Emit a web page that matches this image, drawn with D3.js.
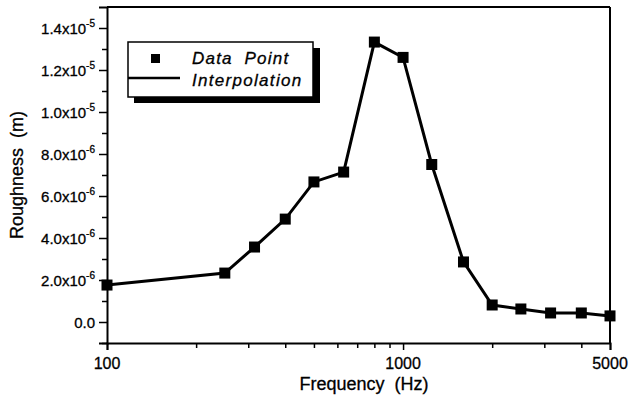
<!DOCTYPE html>
<html>
<head>
<meta charset="utf-8">
<script src="https://cdn.jsdelivr.net/npm/d3@7"></script>
<style>
  body { margin: 0; background: #fff; }
  svg { display: block; font-family: "Liberation Sans", Arial, Helvetica, sans-serif; }
  text { fill: #000; stroke: #000; stroke-width: 0.3px; }
</style>
</head>
<body>
<svg id="chart" width="629" height="399"></svg>
<script>
// data
var freqs = [100, 250, 315, 400, 500, 630, 800, 1000, 1250, 1600, 2000, 2500, 3150, 4000, 5000];
var roughness = [1.76e-6, 2.33e-6, 3.57e-6, 4.9e-6, 6.67e-6, 7.14e-6, 1.333e-5, 1.26e-5,
                 7.5e-6, 2.86e-6, 0.81e-6, 0.62e-6, 0.43e-6, 0.43e-6, 0.29e-6];

var yMajor = [0, 2e-6, 4e-6, 6e-6, 8e-6, 1e-5, 1.2e-5, 1.4e-5];
var yMinor = [-1e-6, 1e-6, 3e-6, 5e-6, 7e-6, 9e-6, 1.1e-5, 1.3e-5];
var yLabels = ["0.0", "2.0x10|-6", "4.0x10|-6", "6.0x10|-6", "8.0x10|-6", "1.0x10|-5", "1.2x10|-5", "1.4x10|-5"];
var xMajor = [100, 1000, 5000];
var xMinor = [200, 300, 400, 500, 600, 700, 800, 900, 2000, 3000, 4000];
var xLabels = ["100", "1000", "5000"];
var legendNames = ["Data  Point", "Interpolation"];

var svg = d3.select("#chart");
// plot box ("top" is taken on window, so short names)
var pL = 107, pR = 610, pT = 7, pB = 343;

var x = d3.scaleLog().domain([100, 5000]).range([pL, pR]);
var y = d3.scaleLinear().domain([-1e-6, 1.5e-5]).range([pB, pT]);

// frame
svg.append("line").attr("x1", pL).attr("x2", pR).attr("y1", pT).attr("y2", pT)
   .attr("stroke", "#000").attr("stroke-width", 2);
svg.append("line").attr("x1", pR).attr("x2", pR).attr("y1", pT).attr("y2", pB)
   .attr("stroke", "#000").attr("stroke-width", 2);

// y axis
var yAx = svg.append("g").attr("transform", "translate(" + pL + ",0)");
yAx.call(d3.axisLeft(y).tickValues(yMajor).tickSize(8).tickFormat(""));
yAx.append("g").call(d3.axisLeft(y).tickValues(yMinor).tickSize(5).tickFormat(""))
   .select(".domain").remove();
yAx.selectAll("path.domain").attr("stroke-width", 2);
yAx.selectAll(".tick line").attr("stroke-width", 1.5);

yMajor.forEach(function(v, i) {
  var parts = yLabels[i].split("|");
  var t = svg.append("text")
     .attr("x", 95).attr("y", y(v) + 6)
     .attr("text-anchor", "end").attr("font-size", 15);
  t.append("tspan").text(parts[0]);
  if (parts[1]) {
    t.append("tspan").attr("dy", -7).attr("font-size", 10).text(parts[1]);
  }
});

// x axis
var xAx = svg.append("g").attr("transform", "translate(0," + pB + ")");
xAx.call(d3.axisBottom(x).tickValues(xMajor).tickSize(7).tickFormat(""));
xAx.append("g").call(d3.axisBottom(x).tickValues(xMinor).tickSize(5).tickFormat(""))
   .select(".domain").remove();
xAx.selectAll("path.domain").attr("stroke-width", 2);
xAx.selectAll(".tick line").attr("stroke-width", 1.5);

xMajor.forEach(function(v, i) {
  svg.append("text").attr("x", x(v)).attr("y", 369)
     .attr("text-anchor", "middle").attr("font-size", 16)
     .text(xLabels[i]);
});

// axis titles
svg.append("text").attr("x", 364).attr("y", 390)
   .attr("text-anchor", "middle").attr("font-size", 18).attr("xml:space", "preserve")
   .text("Frequency  (Hz)");
svg.append("text").attr("transform", "translate(23,175) rotate(-90)")
   .attr("text-anchor", "middle").attr("font-size", 18).attr("xml:space", "preserve")
   .text("Roughness  (m)");

// series
var pts = freqs.map(function(f, i) { return [f, roughness[i]]; });
var line = d3.line().x(function(d) { return x(d[0]); }).y(function(d) { return y(d[1]); });

svg.append("path").datum(pts).attr("d", line)
   .attr("fill", "none").attr("stroke", "#000").attr("stroke-width", 3);

var m = 11;
svg.selectAll("rect.pt").data(pts).enter().append("rect").attr("class", "pt")
   .attr("x", function(d) { return x(d[0]) - m / 2; })
   .attr("y", function(d) { return y(d[1]) - m / 2; })
   .attr("width", m).attr("height", m).attr("fill", "#000");

// legend
var lg = svg.append("g");
lg.append("rect").attr("x", 134).attr("y", 48).attr("width", 186).attr("height", 55).attr("fill", "#000");
lg.append("rect").attr("x", 128).attr("y", 42).attr("width", 185).attr("height", 55)
  .attr("fill", "#fff").attr("stroke", "#000").attr("stroke-width", 1.5);
lg.append("rect").attr("x", 151).attr("y", 54).attr("width", 9).attr("height", 9).attr("fill", "#000");
lg.append("line").attr("x1", 128).attr("x2", 180).attr("y1", 78).attr("y2", 78)
  .attr("stroke", "#000").attr("stroke-width", 2.5);
lg.append("text").attr("x", 192).attr("y", 64).attr("font-size", 17).attr("font-style", "italic")
  .attr("letter-spacing", 1.2).attr("xml:space", "preserve").text(legendNames[0]);
lg.append("text").attr("x", 192).attr("y", 86).attr("font-size", 17).attr("font-style", "italic")
  .attr("letter-spacing", 1.3).text(legendNames[1]);
</script>
</body>
</html>
